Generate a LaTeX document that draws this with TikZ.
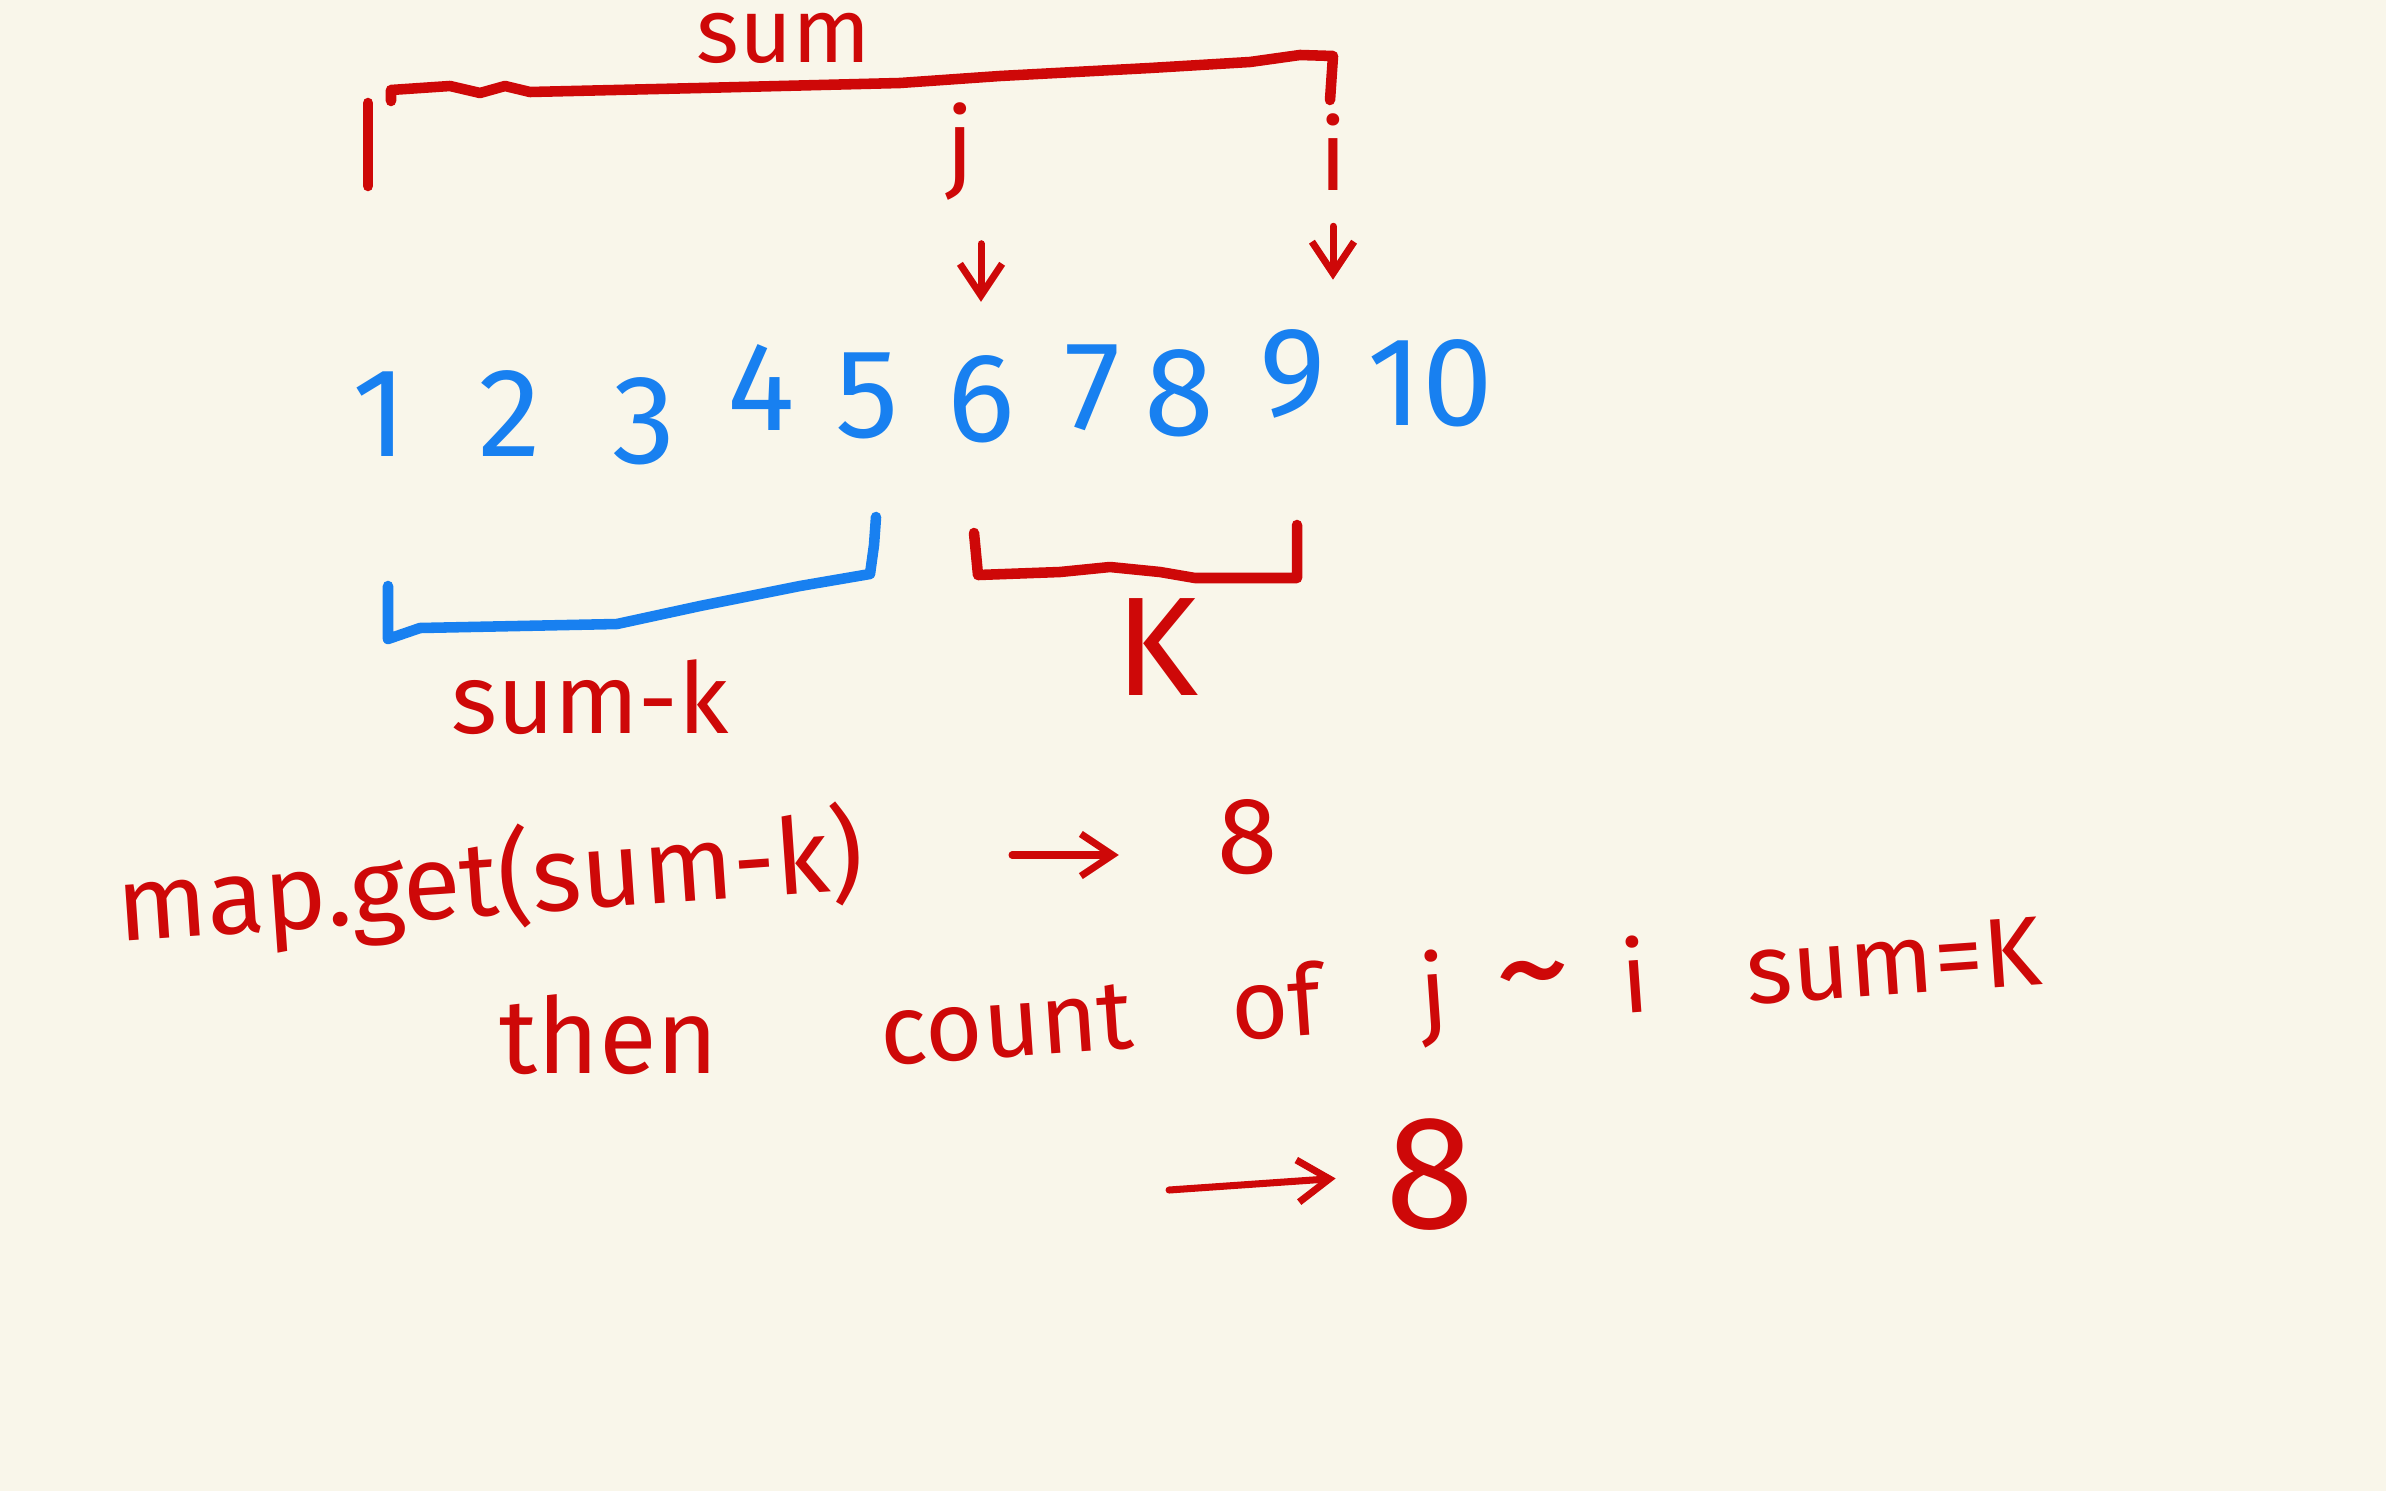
\documentclass[tikz,border=0pt]{standalone}
\usepackage{fontspec}
\setmainfont{Fira Sans}
\usetikzlibrary{arrows.meta,positioning}

\definecolor{paper}{RGB}{249,246,234}
\definecolor{ink}{RGB}{206,8,8}
\definecolor{pen}{RGB}{24,128,240}

\tikzset{
  num/.style={text=pen, font=\fontsize{36}{40}\selectfont, inner sep=0pt},
  note/.style={text=ink, font=\fontsize{28}{32}\selectfont, inner sep=0pt},
  brace/.style={line width=3pt, line cap=round, line join=round},
  ptr/.style={ink, line width=2pt, line cap=round, -{Straight Barb[length=9pt,width=12pt]}},
}

\begin{document}
\begin{tikzpicture}[x=0.01cm, y=-0.01cm] % one unit = one pixel, y runs down

    % Paper
    \fill[paper] (0,0) rectangle (2386,1491);
    \useasboundingbox (0,0) rectangle (2386,1491);

    % The array
    \foreach \n/\x/\y in {1/380/414, 2/510/414, 3/644/421, 4/761/388, 5/867/396,
                          6/981/399, 7/1093/388, 8/1179/393, 9/1293/374, 10/1430/383}
      \node[num] (n\n) at (\x,\y) {\n};

    % Pointers j and i
    \node[note] (j) at (960,152) {j};
    \node[note] (i) at (1333,152) {i};
    \draw[ptr, shorten <=12pt, shorten >=15pt] (j.south -| n6) -- (n6.north);
    \draw[ptr, shorten <=10pt, shorten >=14pt] (i.south) -- (i.south |- n9.north);

    % Bracket for sum
    \node[note, font=\fontsize{26}{30}\selectfont] (sum) at (784,38) {sum};
    \draw[brace, ink] (368,103) -- (368,186);
    \draw[brace, ink] (391,101) -- (391,90) -- (450,86) -- (480,93) -- (505,86) -- (530,92)
      -- (700,88) -- (900,83) -- (1000,76) -- (1150,68) -- (1250,62) -- (1300,55)
      -- (1333,56) -- (1330,100);

    % Bracket for sum-k
    \draw[brace, pen] (388,586) -- (388,639) -- (420,628) -- (617,624) -- (700,606)
      -- (800,586) -- (870,574) -- (874,545) -- (876,517);
    \node[note] (rest) at (590,697) {sum-k};

    % Bracket for K
    \draw[brace, ink] (974,533) -- (978,575) -- (1060,572) -- (1110,567) -- (1160,572)
      -- (1195,578) -- (1297,578) -- (1297,525);
    \node[note, font=\fontsize{40}{44}\selectfont] (k) at (1157,647) {K};

    % Lookup
    \node[note, font=\fontsize{30}{34}\selectfont, rotate=4] (get) at (490,882) {map.get(sum-k)};
    \node[note, font=\fontsize{31}{34}\selectfont] (hit) at (1248,837) {8};
    \coordinate (from) at (1012,855);
    \draw[ptr, shorten >=28pt] (from) -- (hit.west |- from);
    \node[note, font=\fontsize{30}{34}\selectfont] (then) at (609,1035) {then};
    \node[note, rotate=4] (count) at (1461,997)
      {count\quad of\quad j\enspace{\fontsize{44}{44}\selectfont\textasciitilde}\enspace i\quad sum=K};

    % Result
    \node[note, font=\fontsize{46}{50}\selectfont] (res) at (1430,1175) {8};
    \coordinate (to) at (1169,1190);
    \draw[ptr, shorten >=14pt] (to) -- (res.west);

\end{tikzpicture}
\end{document}
